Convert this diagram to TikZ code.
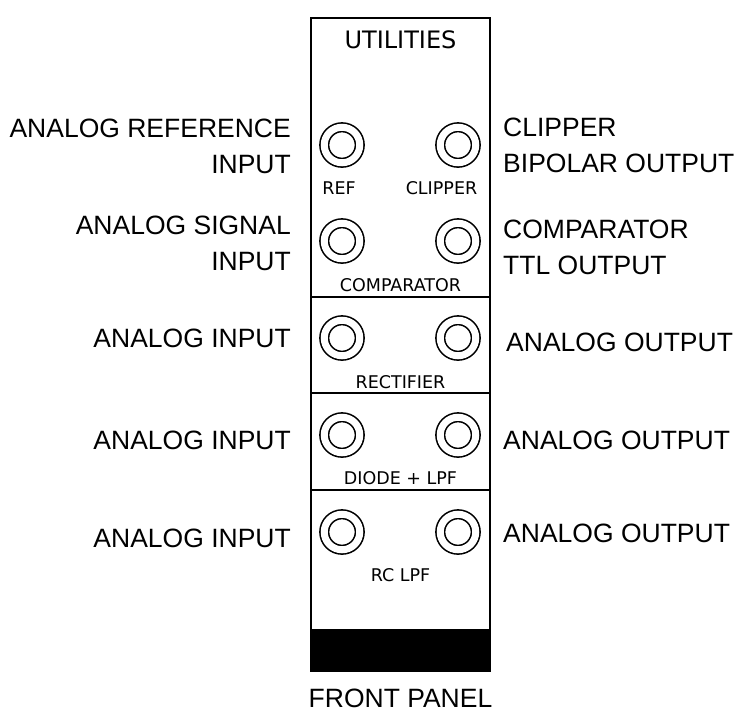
\documentclass[tikz,border=0pt]{standalone}
\usepackage{fontspec}
\setmainfont{Liberation Sans}
\newfontfamily\panelfont{DejaVu Sans}
\usetikzlibrary{positioning}
\definecolor{inkBlack}{HTML}{000000}

\tikzset{
  panelline/.style={draw=inkBlack,line width=2pt},
  jack/.style={circle,draw=inkBlack,line width=1.6pt,double=white,double distance=7pt,
    minimum size=35.5pt,inner sep=0pt},
  paneltxt/.style={font=\panelfont\fontsize{17.5}{20}\selectfont,inner sep=0pt,text=inkBlack},
  sidetxt/.style={font=\fontsize{26.5}{36}\selectfont,inner sep=0pt,text=inkBlack},
  lefttxt/.style={sidetxt,anchor=east,align=right},
  righttxt/.style={sidetxt,anchor=west,align=left}
}

\begin{document}
\begin{tikzpicture}[x=1pt,y=-1pt]
  \useasboundingbox (0,0) rectangle (738,716);

  % panel outline, dividers and foot bar
  \draw[panelline] (311,18) rectangle (490,671);
  \draw[panelline] (311,297) -- (490,297);
  \draw[panelline] (311,393) -- (490,393);
  \draw[panelline] (311,490) -- (490,490);
  \fill[inkBlack] (311,629) rectangle (490,671);

  \node[paneltxt,font=\panelfont\fontsize{24}{26}\selectfont] (title) at (400.5,40) {UTILITIES};

  % jacks
  \node[jack] (refin)    at (342,145) {};
  \node[jack] (clipout)  at (458,145) {};
  \node[jack] (sigin)    at (342,241) {};
  \node[jack] (compout)  at (458,241) {};
  \node[jack] (rectin)   at (342,338) {};
  \node[jack] (rectout)  at (458,338) {};
  \node[jack] (diodein)  at (342,435) {};
  \node[jack] (diodeout) at (458,435) {};
  \node[jack] (rcin)     at (342,532) {};
  \node[jack] (rcout)    at (458,532) {};

  % panel legends
  \node[paneltxt] (reflbl)   at (339,188) {REF};
  \node[paneltxt] (cliplbl)  at (441.5,188) {CLIPPER};
  \node[paneltxt] (complbl)  at (400.5,285) {COMPARATOR};
  \node[paneltxt] (rectlbl)  at (400.5,382) {RECTIFIER};
  \node[paneltxt] (diodelbl) at (400.5,478) {DIODE + LPF};
  \node[paneltxt] (rclbl)    at (400.5,575) {RC LPF};

  % side captions
  \node[lefttxt] (refcap) at (291,146) {ANALOG REFERENCE\\INPUT};
  \node[lefttxt] (sigcap) at (291,243) {ANALOG SIGNAL\\INPUT};
  \node[lefttxt] (rectincap)  at (291,338) {ANALOG INPUT};
  \node[lefttxt] (diodeincap) at (291,440) {ANALOG INPUT};
  \node[lefttxt] (rcincap)    at (291,538) {ANALOG INPUT};

  \node[righttxt] (clipcap) at (503,145) {CLIPPER\\BIPOLAR OUTPUT};
  \node[righttxt] (compcap) at (503,247) {COMPARATOR\\TTL OUTPUT};
  \node[righttxt] (rectoutcap)  at (506,342) {ANALOG OUTPUT};
  \node[righttxt] (diodeoutcap) at (503,440) {ANALOG OUTPUT};
  \node[righttxt] (rcoutcap)    at (503,533) {ANALOG OUTPUT};

  \node[sidetxt] (front) at (400.5,698) {FRONT PANEL};
\end{tikzpicture}
\end{document}
